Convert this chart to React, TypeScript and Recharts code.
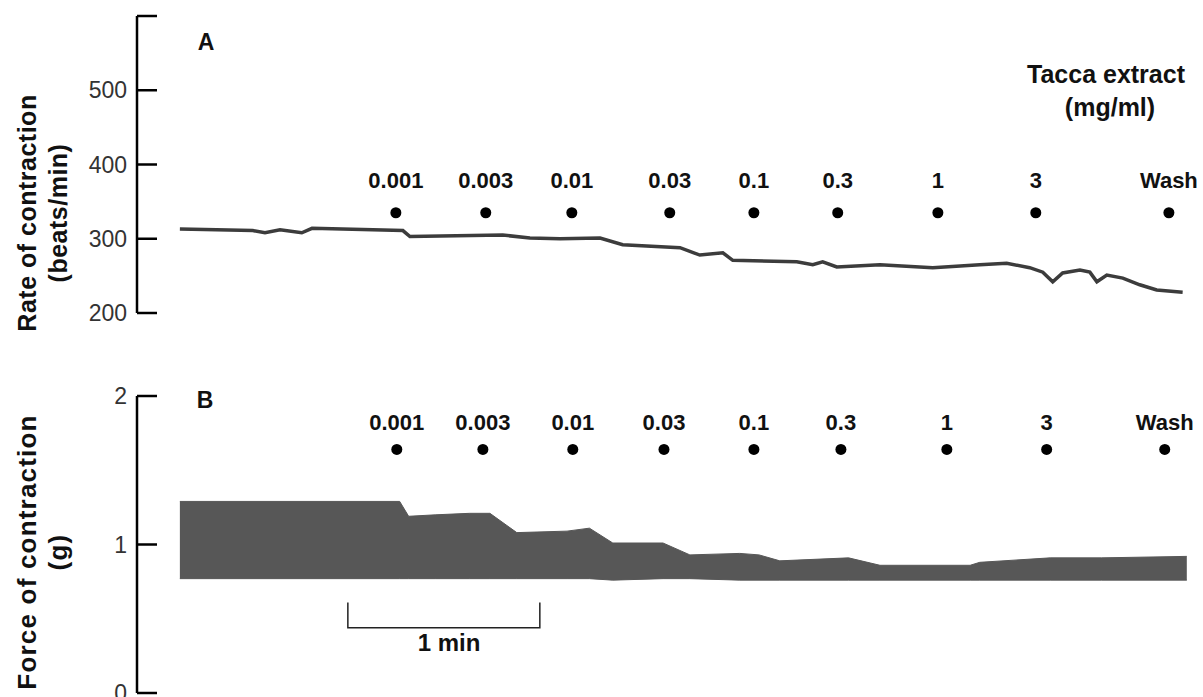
import React from 'react';
import { ComposedChart, Line, Area, Scatter, XAxis, YAxis } from 'recharts';

const FONT = "'Liberation Sans', Arial, sans-serif";

// time (s) from the start of the recording
const rateTimes = [0, 22.8, 26.6, 31.3, 38.1, 41.3, 69.7, 71.9, 100.9, 109.4, 118.8, 131.3, 138.4, 156.3, 162.5, 169.7, 172.8, 192.8, 197.8, 200.9, 205.3, 218.8, 235.3, 250, 258.4, 265.6, 269.7, 272.8, 275.9, 281.3, 284.4, 286.6, 289.7, 294.7, 300, 305.3, 313.4];
const rateValues = [313, 311, 308, 312, 308, 314, 311, 303, 305, 301, 300, 301, 292, 288, 278, 281, 271, 269, 265, 269, 262, 265, 261, 265, 267, 261, 255, 242, 254, 258, 255, 242, 251, 247, 238, 231, 228];

const forceTimes = [0, 68.7, 71.5, 80, 90.6, 96.9, 105.3, 121, 128, 135.3, 151, 159.4, 175, 181, 187.5, 209, 218.8, 247, 250, 272, 288, 314.7];
const forceLow = [0.77, 0.77, 0.77, 0.77, 0.77, 0.77, 0.77, 0.77, 0.77, 0.76, 0.77, 0.77, 0.76, 0.76, 0.76, 0.76, 0.76, 0.76, 0.76, 0.76, 0.76, 0.76];
const forceHigh = [1.29, 1.29, 1.19, 1.2, 1.21, 1.21, 1.08, 1.09, 1.11, 1.01, 1.01, 0.93, 0.94, 0.93, 0.89, 0.91, 0.86, 0.86, 0.88, 0.91, 0.91, 0.92];

const doseLabels = ['0.001', '0.003', '0.01', '0.03', '0.1', '0.3', '1', '3', 'Wash'];
const doseTimesA = [67.5, 95.6, 122.5, 153.1, 179.4, 205.6, 236.9, 267.5, 309.1];
const doseTimesB = [67.8, 94.7, 122.8, 151.3, 179.4, 206.6, 239.7, 270.9, 307.8];

const rateTicks = [200, 300, 400, 500, 600];
const forceTicks = [0, 1, 2];

const scaleBarStart = 52.5;
const scaleBarSeconds = 60;

const rateData = rateTimes.map((t, i) => ({ t, rate: rateValues[i] }));
const forceData = forceTimes.map((t, i) => ({ t, force: [forceLow[i], forceHigh[i]] }));
const doseA = doseLabels.map((label, i) => ({ t: doseTimesA[i], mark: 335, label }));
const doseB = doseLabels.map((label, i) => ({ t: doseTimesB[i], mark: 1.64, label }));
const scaleBar = [
  { t: scaleBarStart, bar: 0.61 },
  { t: scaleBarStart, bar: 0.44 },
  { t: scaleBarStart + scaleBarSeconds, bar: 0.44 },
  { t: scaleBarStart + scaleBarSeconds, bar: 0.61 },
];

const X_DOMAIN = [-13.4, 318.2];
const AXIS_X = 137; // y axis width, the axis line sits here

// ticks point into the plot, labels sit left of the axis
const AxisTick = (props: any) => {
  const { y, payload, hideValue } = props;
  return (
    <g>
      <line x1={AXIS_X} x2={AXIS_X + 20} y1={y} y2={y} stroke="#000" strokeWidth={2.5} />
      {payload.value !== hideValue && (
        <text x={AXIS_X - 10} y={y} dy={8} textAnchor="end" fontFamily={FONT} fontSize={23} fill="#333">
          {payload.value}
        </text>
      )}
    </g>
  );
};

const DoseMark = (props: any) => {
  const { cx, cy, payload, lift } = props;
  return (
    <g>
      <circle cx={cx} cy={cy} r={5.5} fill="#000" />
      <text x={cx} y={cy - lift} textAnchor="middle" fontFamily={FONT} fontWeight="bold" fontSize={22} fill="#111">
        {payload.label}
      </text>
    </g>
  );
};

const axisTitle = (lines: { text: string; x: number }[], cy: number, size: number, spacing: number) => () => (
  <g>
    {lines.map((l) => (
      <text
        key={l.text}
        transform={`translate(${l.x},${cy}) rotate(-90)`}
        textAnchor="middle"
        dominantBaseline="central"
        fontFamily={FONT}
        fontWeight="bold"
        fontSize={size}
        letterSpacing={spacing}
        fill="#111"
      >
        {l.text}
      </text>
    ))}
  </g>
);

const Note = ({ x, y, size, children }: any) => (
  <div
    style={{
      position: 'absolute', left: x, top: y, transform: 'translate(-50%, -50%)',
      fontFamily: FONT, fontWeight: 'bold', fontSize: size, lineHeight: 1, whiteSpace: 'nowrap', color: '#111',
    }}
  >
    {children}
  </div>
);

export default function App() {
  return (
    <div style={{ position: 'absolute', left: 0, top: 0, width: 1203, height: 697, background: '#fff', overflow: 'hidden' }}>
      <div style={{ position: 'absolute', left: 0, top: 0 }}>
        <ComposedChart width={1203} height={345} margin={{ top: 16, right: 5, bottom: 32, left: 0 }} style={{ overflow: 'visible' }}>
          <XAxis dataKey="t" type="number" domain={X_DOMAIN} allowDataOverflow hide />
          <YAxis
            type="number"
            domain={[200, 600]}
            ticks={rateTicks}
            interval={0}
            width={AXIS_X}
            tickLine={false}
            axisLine={{ stroke: '#000', strokeWidth: 2.5 }}
            tick={(p: any) => <AxisTick {...p} hideValue={600} />}
            label={axisTitle([{ text: 'Rate of contraction', x: 27 }, { text: '(beats/min)', x: 58 }], 213, 25, 0.5)}
          />
          <Line data={rateData} dataKey="rate" type="linear" stroke="#3c3c3c" strokeWidth={3.5} dot={false} isAnimationActive={false} />
          <Scatter data={doseA} dataKey="mark" shape={(p: any) => <DoseMark {...p} lift={25} />} isAnimationActive={false} />
        </ComposedChart>
      </div>

      <div style={{ position: 'absolute', left: 0, top: 380 }}>
        <ComposedChart width={1203} height={317} margin={{ top: 16, right: 5, bottom: 4, left: 0 }} style={{ overflow: 'visible' }}>
          <XAxis dataKey="t" type="number" domain={X_DOMAIN} allowDataOverflow hide />
          <YAxis
            type="number"
            domain={[0, 2]}
            ticks={forceTicks}
            interval={0}
            width={AXIS_X}
            tickLine={false}
            axisLine={{ stroke: '#000', strokeWidth: 2.5 }}
            tick={(p: any) => <AxisTick {...p} />}
            label={axisTitle([{ text: 'Force of contraction', x: 27 }, { text: '(g)', x: 58 }], 172, 26, 1.2)}
          />
          <Area data={forceData} dataKey="force" type="linear" fill="#575757" fillOpacity={1} stroke="#575757" strokeWidth={1} isAnimationActive={false} />
          <Line data={scaleBar} dataKey="bar" type="linear" stroke="#222" strokeWidth={1.5} dot={false} isAnimationActive={false} />
          <Scatter data={doseB} dataKey="mark" shape={(p: any) => <DoseMark {...p} lift={19} />} isAnimationActive={false} />
        </ComposedChart>
      </div>

      <Note x={206} y={42} size={23}>A</Note>
      <Note x={205} y={400} size={23}>B</Note>
      <Note x={1106} y={74} size={25}>Tacca extract</Note>
      <Note x={1110} y={107} size={25}>(mg/ml)</Note>
      <Note x={449} y={643} size={24}>1 min</Note>
    </div>
  );
}
